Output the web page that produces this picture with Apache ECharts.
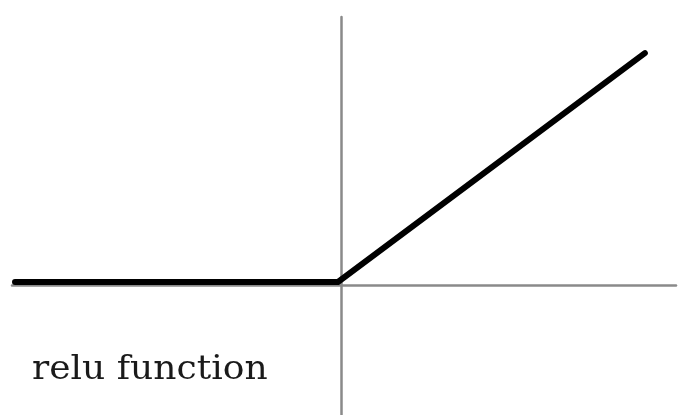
<!DOCTYPE html>
<html>
<head>
<meta charset="utf-8">
<style>
  html, body { margin: 0; padding: 0; background: #fff; }
  #chart { width: 685px; height: 415px; }
</style>
<script src="https://cdn.jsdelivr.net/npm/echarts@6/dist/echarts.min.js"></script>
</head>
<body>
<div id="chart"></div>
<script>
// Data
var reluX = [-10, 0, 9.5];
var reluY = [0, 0, 9.5];
var caption = 'relu function';

var points = reluX.map(function (x, i) { return [x, reluY[i]]; });

var chart = echarts.init(document.getElementById('chart'), null, { renderer: 'canvas' });
var axisColor = '#8a8a8a';
chart.setOption({
  animation: false,
  backgroundColor: '#ffffff',
  grid: { left: 12, right: 9, top: 17, bottom: 0, containLabel: false },
  xAxis: [
    {
      type: 'value', min: -10.186, max: 10.372,
      axisLine: { show: true, onZero: true, onZeroAxisIndex: 0, lineStyle: { color: axisColor, width: 2.5 } },
      axisTick: { show: false }, axisLabel: { show: false }, splitLine: { show: false }
    },
    {
      type: 'value', min: -10.093, max: 10.464, show: false,
      axisLine: { show: false }, splitLine: { show: false }
    }
  ],
  yAxis: [
    {
      type: 'value', min: -5.394, max: 11.12,
      axisLine: { show: true, onZero: true, onZeroAxisIndex: 0, lineStyle: { color: axisColor, width: 2.5 } },
      axisTick: { show: false }, axisLabel: { show: false }, splitLine: { show: false }
    },
    {
      type: 'value', min: -5.519, max: 10.996, show: false,
      axisLine: { show: false }, splitLine: { show: false }
    }
  ],
  series: [
    {
      type: 'line',
      xAxisIndex: 1,
      yAxisIndex: 1,
      data: points,
      showSymbol: false,
      symbol: 'none',
      clip: false,
      lineStyle: { color: '#000', width: 6, cap: 'round', join: 'miter' }
    }
  ],
  graphic: [
    {
      type: 'text',
      x: 32,
      y: 387,
      scaleX: 1.06,
      style: {
        text: caption,
        font: '34px "DejaVu Serif"',
        fill: '#1a1a1a',
        textVerticalAlign: 'bottom',
        textBaseline: 'alphabetic'
      }
    }
  ]
});
</script>
</body>
</html>
